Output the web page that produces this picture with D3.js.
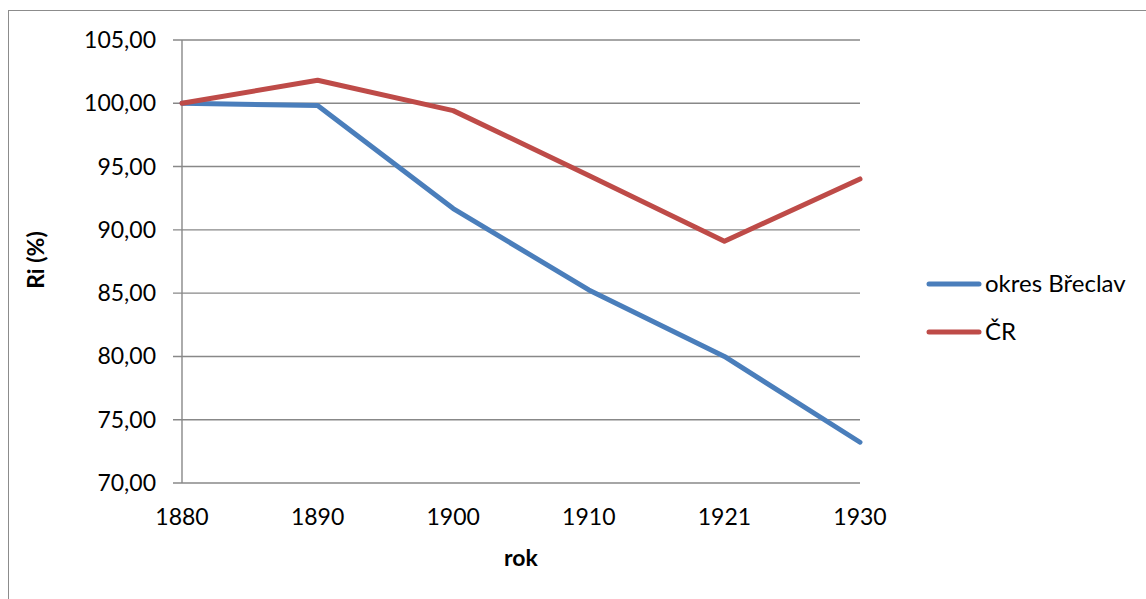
<!DOCTYPE html>
<html>
<head>
<meta charset="utf-8">
<script src="https://cdn.jsdelivr.net/npm/d3@7"></script>
<style>
  body { margin: 0; background: #fff; }
  text { font-family: Lato, "Open Sans", sans-serif; fill: #000; }
</style>
</head>
<body>
<div id="chart"></div>
<script>
var years = ["1880", "1890", "1900", "1910", "1921", "1930"];
var breclav = [100.00, 99.82, 91.68, 85.25, 80.00, 73.22];
var cr = [100.00, 101.82, 99.42, 94.30, 89.10, 94.02];
var yTicks = [70, 75, 80, 85, 90, 95, 100, 105];
var seriesNames = ["okres Břeclav", "ČR"];
var colors = ["#4a7ebb", "#be4b48"];

var width = 1146, height = 599;
var margin = {top: 40, left: 182, right: 286, bottom: 116};

var svg = d3.select("#chart")
    .append("svg")
    .attr("width", width)
    .attr("height", height);

// outer chart border
svg.append("rect")
    .attr("x", 8.5).attr("y", 10.5)
    .attr("width", 1200).attr("height", 700)
    .attr("fill", "none")
    .attr("stroke", "#8c8c8c")
    .attr("stroke-width", 1);

var xScale = d3.scalePoint()
    .domain(years)
    .range([margin.left, width - margin.right]);

var yScale = d3.scaleLinear()
    .domain([70, 105])
    .range([height - margin.bottom, margin.top]);

// gridlines
svg.append("g")
    .selectAll("line")
    .data(yTicks)
    .enter()
    .append("line")
    .attr("x1", margin.left - 9)
    .attr("x2", width - margin.right)
    .attr("y1", function(d) { return yScale(d); })
    .attr("y2", function(d) { return yScale(d); })
    .attr("stroke", "#888")
    .attr("stroke-width", 1.4);

// y axis line
svg.append("line")
    .attr("x1", margin.left).attr("x2", margin.left)
    .attr("y1", margin.top).attr("y2", height - margin.bottom)
    .attr("stroke", "#888")
    .attr("stroke-width", 1.4);

var fmt = function(d) { return d3.format(".2f")(d).replace(".", ","); };

svg.append("g")
    .selectAll("text")
    .data(yTicks)
    .enter()
    .append("text")
    .attr("x", margin.left - 26)
    .attr("y", function(d) { return yScale(d); })
    .attr("dy", "0.35em")
    .attr("text-anchor", "end")
    .style("font-size", "23px")
    .text(fmt);

svg.append("g")
    .selectAll("text")
    .data(years)
    .enter()
    .append("text")
    .attr("x", function(d) { return xScale(d); })
    .attr("y", 525)
    .attr("text-anchor", "middle")
    .style("font-size", "23px")
    .text(function(d) { return d; });

svg.append("text")
    .attr("x", (margin.left + width - margin.right) / 2)
    .attr("y", 566)
    .attr("text-anchor", "middle")
    .style("font-size", "23px")
    .style("font-weight", "bold")
    .text("rok");

svg.append("text")
    .attr("transform", "rotate(-90)")
    .attr("x", -260)
    .attr("y", 44)
    .attr("text-anchor", "middle")
    .style("font-size", "23px")
    .style("font-weight", "bold")
    .text("Ri (%)");

var line = d3.line()
    .x(function(d, i) { return xScale(years[i]); })
    .y(function(d) { return yScale(d); });

[breclav, cr].forEach(function(s, i) {
    svg.append("path")
        .datum(s)
        .attr("d", line)
        .attr("fill", "none")
        .attr("stroke", colors[i])
        .attr("stroke-width", 5)
        .attr("stroke-linejoin", "round")
        .attr("stroke-linecap", "round");
});

// legend
var legend = svg.append("g");
seriesNames.forEach(function(name, i) {
    var ly = 284 + i * 48;
    legend.append("line")
        .attr("x1", 929).attr("x2", 979)
        .attr("y1", ly).attr("y2", ly)
        .attr("stroke", colors[i])
        .attr("stroke-width", 5)
        .attr("stroke-linecap", "round");
    legend.append("text")
        .attr("x", 985)
        .attr("y", ly)
        .attr("dy", "0.35em")
        .style("font-size", "24px")
        .text(name);
});
</script>
</body>
</html>
